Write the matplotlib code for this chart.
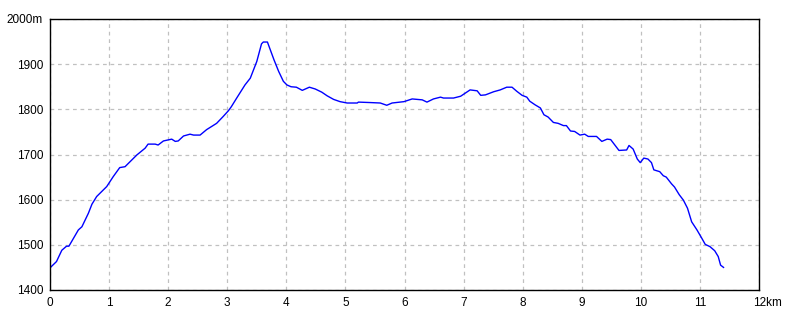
import matplotlib
matplotlib.use("Agg")
import matplotlib.pyplot as plt
from matplotlib.transforms import ScaledTranslation

# distance (km) and elevation (m)
dist_km = [0.00, 0.11, 0.20, 0.28, 0.32, 0.48, 0.54, 0.65, 0.71, 0.79, 0.96,
           1.07, 1.18, 1.27, 1.47, 1.61, 1.66, 1.78, 1.83, 1.92, 2.06, 2.12,
           2.17, 2.26, 2.37, 2.43, 2.54, 2.65, 2.82, 2.93, 3.02, 3.07, 3.16,
           3.30, 3.39, 3.50, 3.58, 3.61, 3.68, 3.79, 3.87, 3.95, 4.01, 4.08,
           4.17, 4.27, 4.39, 4.49, 4.60, 4.69, 4.80, 4.91, 5.03, 5.20, 5.22,
           5.42, 5.59, 5.70, 5.79, 5.99, 6.13, 6.30, 6.38, 6.49, 6.61, 6.66,
           6.83, 6.95, 7.03, 7.11, 7.23, 7.29, 7.37, 7.51, 7.62, 7.73, 7.82,
           7.90, 7.99, 8.07, 8.12, 8.21, 8.30, 8.36, 8.43, 8.52, 8.60, 8.69,
           8.74, 8.81, 8.88, 8.97, 9.05, 9.11, 9.25, 9.34, 9.43, 9.49, 9.56,
           9.63, 9.76, 9.80, 9.87, 9.94, 9.99, 10.05, 10.12, 10.18, 10.22,
           10.32, 10.38, 10.43, 10.52, 10.57, 10.65, 10.72, 10.79, 10.86,
           10.95, 11.03, 11.09, 11.17, 11.25, 11.31, 11.35, 11.40]
elev_m = [1449, 1463, 1488, 1497, 1497, 1533, 1540, 1570, 1590, 1607, 1629,
          1651, 1671, 1673, 1699, 1714, 1723, 1723, 1721, 1730, 1734, 1729,
          1730, 1741, 1745, 1743, 1743, 1755, 1769, 1784, 1797, 1806, 1825,
          1854, 1869, 1906, 1945, 1949, 1949, 1910, 1884, 1862, 1854, 1850,
          1849, 1842, 1849, 1845, 1838, 1830, 1822, 1817, 1814, 1814, 1816,
          1815, 1814, 1809, 1814, 1817, 1823, 1821, 1816, 1823, 1827, 1825,
          1825, 1829, 1836, 1843, 1841, 1831, 1832, 1839, 1843, 1849, 1849,
          1840, 1831, 1827, 1818, 1810, 1803, 1788, 1783, 1771, 1769, 1764,
          1764, 1752, 1751, 1743, 1745, 1740, 1740, 1729, 1734, 1733, 1721,
          1709, 1710, 1720, 1712, 1690, 1682, 1692, 1690, 1682, 1666,
          1662, 1653, 1650, 1635, 1628, 1611, 1599, 1581, 1551,
          1533, 1515, 1501, 1496, 1487, 1474, 1455, 1450]

x_ticks = list(range(0, 13))
x_labels = [str(v) for v in x_ticks[:-1]] + ["12km"]
y_ticks = [1400, 1500, 1600, 1700, 1800, 1900, 2000]
y_labels = ["1400", "1500", "1600", "1700", "1800", "1900", "2000m"]

plt.rcParams['font.family'] = ['Liberation Sans', 'DejaVu Sans']

fig = plt.figure(figsize=(8, 3.2), dpi=100)
ax = fig.add_axes([50/800, 30/320, 709/800, 271/320])

ax.plot(dist_km, elev_m, color='#0000ff', lw=1.0)

ax.set_xlim(0, 12)
ax.set_ylim(1400, 2000)
ax.set_xticks(x_ticks)
ax.set_xticklabels(x_labels)
ax.set_yticks(y_ticks)
ax.set_yticklabels(y_labels)
ax.tick_params(length=0, labelsize=8.5, colors='black')
ax.tick_params(axis='y', pad=5)
ax.tick_params(axis='x', pad=5)
ax.grid(True, color='#c0c0c0', linestyle=(0, (3, 3)), lw=0.9)
for s in ax.spines.values():
    s.set_color('black')
    s.set_linewidth(1.0)

# last x label: "12" centred on the tick, "km" trailing
last = ax.get_xticklabels()[-1]
last.set_ha('left')
last.set_transform(last.get_transform() + ScaledTranslation(-6/100, 0, fig.dpi_scale_trans))

fig.savefig("out.png", dpi=100)
